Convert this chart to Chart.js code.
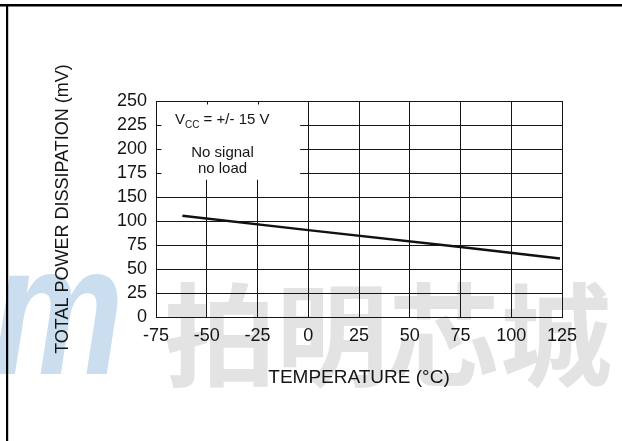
<!DOCTYPE html>
<html><head><meta charset="utf-8">
<script src="https://cdn.jsdelivr.net/npm/chart.js@4.4.0/dist/chart.umd.min.js"></script>
<style>html,body{margin:0;padding:0;background:#fff;}canvas{display:block;}</style>
</head><body>
<canvas id="c" width="622" height="441"></canvas>
<script>
// ---- data ----
const temperatures = [-62, 0, 75, 124];          // °C
const powerDissipation = [105.4, 90.5, 73, 61];  // mV
const yTickLabels = ['0','25','50','75','100','150','175','200','225','250'];
const yTitle = 'TOTAL POWER DISSIPATION (mV)';
const xTitle = 'TEMPERATURE (°C)';
const noteVcc = ['V', 'CC', ' = +/- 15 V'];
const noteLines = ['No signal', 'no load'];
const watermarkLogo = 'm';
const watermarkText = '拍明芯城';

const FONT = '"Liberation Sans", Arial, Helvetica, sans-serif';
const INK = '#151515';

const decor = {
  id: 'decor',
  beforeDraw(chart) {
    const ctx = chart.ctx;
    ctx.save();
    ctx.fillStyle = '#fff';
    ctx.fillRect(0, 0, chart.width, chart.height);
    // watermark
    ctx.fillStyle = '#cadef0';
    ctx.font = 'italic bold 185px ' + FONT;
    ctx.textBaseline = 'alphabetic';
    ctx.save(); ctx.translate(-8, 374); ctx.scale(0.8, 1); ctx.fillText(watermarkLogo, 0, 0); ctx.restore();
    ctx.fillStyle = '#e3e3e3';
    ctx.font = 'bold 112px "Noto Sans CJK SC"';
    ctx.textBaseline = 'middle';
    ctx.textAlign = 'left';
    ctx.fillText(watermarkText, 164, 335);
    // frame
    ctx.fillStyle = '#000';
    ctx.fillRect(0, 4, chart.width, 2.5);
    ctx.fillRect(6, 4, 2.2, chart.height);
    ctx.restore();
  },
  beforeDatasetsDraw(chart) {
    const {ctx, scales: {x, y}} = chart;
    const left = x.left, top = y.top;
    const boxRight = x.getPixelForValue(-4);
    const boxBottom = y.getPixelForValue(143);
    ctx.save();
    ctx.fillStyle = '#fff';
    ctx.fillRect(left + 1, top + 1, boxRight - left - 1, boxBottom - top - 1);
    ctx.strokeStyle = INK; ctx.lineWidth = 1;
    ctx.beginPath();
    [-50, -25].forEach(v => { const p = Math.round(x.getPixelForValue(v)) + 0.5; ctx.moveTo(p, top); ctx.lineTo(p, top + 3.5); });
    [200, 175, 150].forEach(v => { const p = Math.round(y.getPixelForValue(v)) + 0.5; ctx.moveTo(left, p); ctx.lineTo(left + 5.5, p); });
    ctx.stroke();
    // note text
    ctx.fillStyle = INK;
    ctx.textBaseline = 'alphabetic';
    ctx.textAlign = 'left';
    let tx = 175;
    ctx.font = '15px ' + FONT; ctx.fillText(noteVcc[0], tx, 124); tx += ctx.measureText(noteVcc[0]).width;
    ctx.font = '10px ' + FONT; ctx.fillText(noteVcc[1], tx, 128); tx += ctx.measureText(noteVcc[1]).width;
    ctx.font = '15px ' + FONT; ctx.fillText(noteVcc[2], tx, 124);
    ctx.textAlign = 'center';
    ctx.fillText(noteLines[0], 222.5, 156.5);
    ctx.fillText(noteLines[1], 222.5, 172.5);
    ctx.restore();
  }
};

const points = temperatures.map((t, i) => ({x: t, y: powerDissipation[i]}));

new Chart(document.getElementById('c'), {
  type: 'scatter',
  data: { datasets: [{
    data: points, showLine: true, borderColor: '#111', borderWidth: 2.5,
    pointRadius: 0, tension: 0, fill: false
  }]},
  options: {
    responsive: false, animation: false, devicePixelRatio: 1,
    layout: { padding: { left: 40, right: 60, top: 101, bottom: 46 } },
    plugins: { legend: { display: false }, tooltip: { enabled: false } },
    scales: {
      x: {
        type: 'linear', min: -75, max: 125,
        afterFit: s => { s.height = 78; },
        ticks: { stepSize: 25, padding: 8, autoSkip: false, color: INK, font: { family: FONT, size: 18 }, maxRotation: 0 },
        grid: { color: INK, lineWidth: 1, drawTicks: false },
        border: { color: INK, width: 1 },
        title: { display: true, text: xTitle, color: INK, font: { family: FONT, size: 19 }, padding: { top: 0, bottom: 6 } }
      },
      y: {
        type: 'linear', min: 0, max: 225,
        afterFit: s => { s.width = 116; },
        ticks: { stepSize: 25, padding: 9, autoSkip: false, color: INK, font: { family: FONT, size: 18 },
                 callback: (v, i) => yTickLabels[i] },
        grid: { color: INK, lineWidth: 1, drawTicks: false },
        border: { color: INK, width: 1 },
        title: { display: true, text: yTitle, color: INK, font: { family: FONT, size: 18 }, padding: { top: 12, bottom: 0 } }
      }
    }
  },
  plugins: [decor]
});
</script>
</body></html>
